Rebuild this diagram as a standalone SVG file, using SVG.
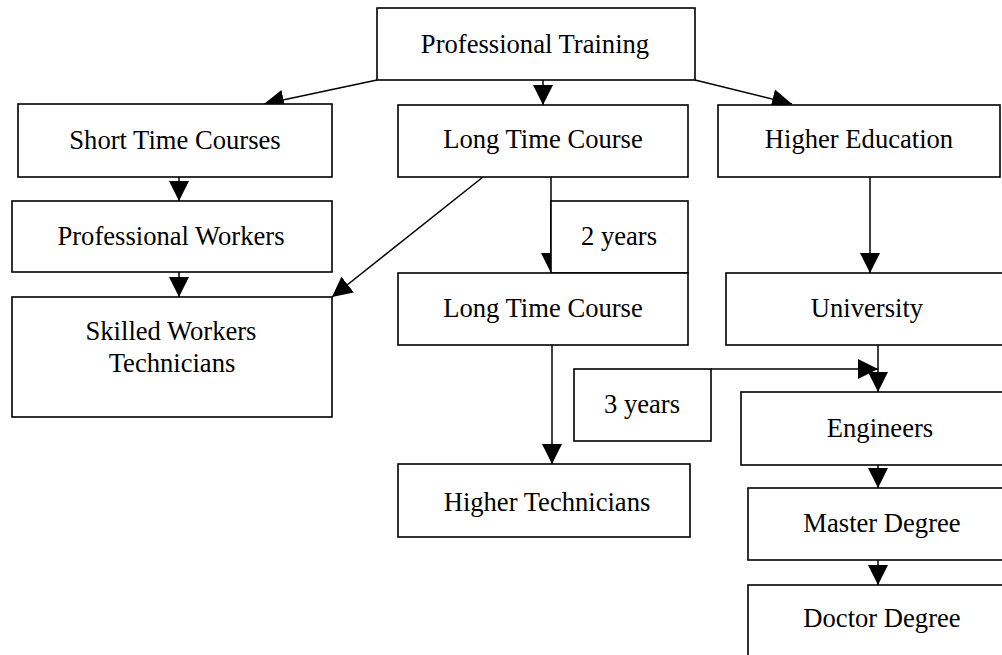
<svg xmlns="http://www.w3.org/2000/svg" width="1002" height="655" viewBox="0 0 1002 655">
  <style>
    .box { fill: #ffffff; stroke: #000000; stroke-width: 1.6; }
    .lbl { font-family: "Liberation Serif", "Times New Roman", serif; font-size: 26.6px; fill: #000000; text-anchor: middle; }
    .edge { fill: none; stroke: #000000; stroke-width: 1.5; marker-end: url(#head); }
    .plain { fill: none; stroke: #000000; stroke-width: 1.5; }
  </style>
  <defs>
    <marker id="head" markerUnits="userSpaceOnUse" markerWidth="20" markerHeight="20" refX="20" refY="10" orient="auto">
      <path d="M0,0 L20,10 L0,20 z" fill="#000000"/>
    </marker>
  </defs>
  <rect x="0" y="0" width="1002" height="655" fill="#ffffff"/>

  <!-- connectors -->
  <g id="connectors">
    <line class="edge" x1="377" y1="80" x2="264" y2="104"/>
    <line class="edge" x1="543" y1="80" x2="543" y2="105"/>
    <line class="edge" x1="695" y1="80" x2="792" y2="104"/>
    <line class="edge" x1="179" y1="177" x2="179" y2="201"/>
    <line class="edge" x1="179" y1="272" x2="179" y2="297"/>
    <line class="edge" x1="483" y1="177" x2="332" y2="297"/>
    <line class="edge" x1="551" y1="177" x2="551" y2="273"/>
    <line class="edge" x1="552" y1="345" x2="552" y2="464"/>
    <line class="edge" x1="870" y1="177" x2="870" y2="273"/>
    <line class="edge" x1="878" y1="345" x2="878" y2="392"/>
    <line class="edge" x1="711" y1="369" x2="878" y2="369"/>
    <line class="edge" x1="878" y1="465" x2="878" y2="488"/>
    <line class="edge" x1="878" y1="560" x2="878" y2="585"/>
  </g>

  <!-- nodes -->
  <g id="professional-training">
    <rect class="box" x="377" y="8" width="318" height="72"/>
    <text class="lbl" x="535" y="53">Professional Training</text>
  </g>
  <g id="short-time-courses">
    <rect class="box" x="18" y="104" width="314" height="73"/>
    <text class="lbl" x="175" y="149">Short Time Courses</text>
  </g>
  <g id="professional-workers">
    <rect class="box" x="12" y="201" width="320" height="71"/>
    <text class="lbl" x="171" y="245">Professional Workers</text>
  </g>
  <g id="skilled-workers">
    <rect class="box" x="12" y="297" width="320" height="120"/>
    <text class="lbl" x="171" y="340">Skilled Workers</text>
    <text class="lbl" x="172" y="372">Technicians</text>
  </g>
  <g id="long-time-course-1">
    <rect class="box" x="398" y="105" width="290" height="72"/>
    <text class="lbl" x="543" y="148">Long Time Course</text>
  </g>
  <g id="two-years">
    <rect class="box" x="551" y="201" width="137" height="72"/>
    <text class="lbl" x="619" y="245">2 years</text>
  </g>
  <g id="long-time-course-2">
    <rect class="box" x="398" y="273" width="290" height="72"/>
    <text class="lbl" x="543" y="317">Long Time Course</text>
  </g>
  <g id="higher-technicians">
    <rect class="box" x="398" y="464" width="292" height="73"/>
    <text class="lbl" x="547" y="511">Higher Technicians</text>
  </g>
  <g id="higher-education">
    <rect class="box" x="718" y="105" width="282" height="72"/>
    <text class="lbl" x="859" y="148">Higher Education</text>
  </g>
  <g id="university">
    <rect class="box" x="726" y="273" width="282" height="72"/>
    <text class="lbl" x="867" y="317">University</text>
  </g>
  <g id="three-years">
    <rect class="box" x="574" y="369" width="137" height="72"/>
    <text class="lbl" x="642" y="413">3 years</text>
  </g>
  <g id="engineers">
    <rect class="box" x="741" y="392" width="279" height="73"/>
    <text class="lbl" x="880" y="437">Engineers</text>
  </g>
  <g id="master-degree">
    <rect class="box" x="748" y="488" width="268" height="72"/>
    <text class="lbl" x="882" y="532">Master Degree</text>
  </g>
  <g id="doctor-degree">
    <rect class="box" x="748" y="585" width="268" height="80"/>
    <text class="lbl" x="882" y="627">Doctor Degree</text>
  </g>
</svg>
